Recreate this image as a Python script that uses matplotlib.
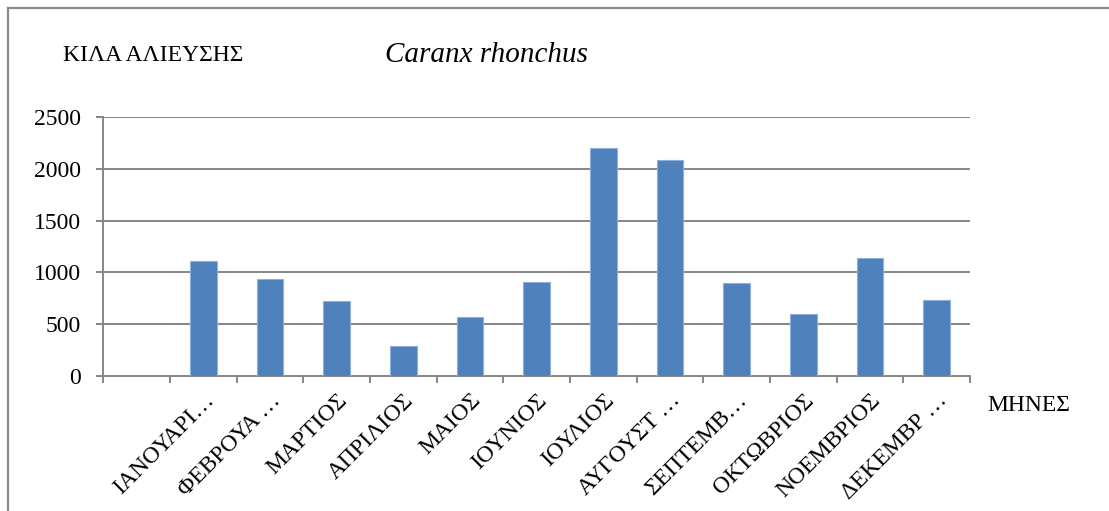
import numpy as np
import matplotlib
matplotlib.use('Agg')
import matplotlib.pyplot as plt
from matplotlib.lines import Line2D

plt.rcParams['font.family'] = ['Liberation Serif', 'DejaVu Serif']

# data (first category is empty)
months = ['', 'ΙΑΝΟΥΑΡΙ…', 'ΦΕΒΡΟΥΑ …', 'ΜΑΡΤΙΟΣ', 'ΑΠΡΙΛΙΟΣ', 'ΜΑΙΟΣ', 'ΙΟΥΝΙΟΣ',
          'ΙΟΥΛΙΟΣ', 'ΑΥΓΟΥΣΤ …', 'ΣΕΠΤΕΜΒ…', 'ΟΚΤΩΒΡΙΟΣ', 'ΝΟΕΜΒΡΙΟΣ', 'ΔΕΚΕΜΒΡ …']
kilos = [np.nan, 1110, 935, 725, 290, 570, 910, 2200, 2085, 900, 600, 1140, 730]
yticks = [0, 500, 1000, 1500, 2000, 2500]

fig = plt.figure(figsize=(11.09, 5.11), dpi=100)
ax = fig.add_axes([0.0932, 0.2642, 0.7815, 0.5068])

x = np.arange(len(months))
ax.bar(x, kilos, width=0.4, color='#4F81BD', edgecolor='#8eb0dc', linewidth=0.8, zorder=3)

ax.set_xlim(-0.5, len(months) - 0.5)
ax.set_ylim(0, 2500)
ax.set_yticks(yticks)
ax.set_yticklabels([str(v) for v in yticks])
ax.grid(axis='y', color='#868686', linewidth=1.4, zorder=0)

# category boundaries get tick marks, centres get labels
ax.set_xticks(np.arange(len(months) + 1) - 0.5)
ax.set_xticklabels([])
ax.set_xticks(x, minor=True)
ax.set_xticklabels(months, minor=True, fontsize=17, rotation=45,
                   ha='right', va='top', rotation_mode='anchor')
ax.tick_params(axis='x', which='major', length=5, width=1.4, color='#868686')
ax.tick_params(axis='x', which='minor', length=0, pad=10)
ax.tick_params(axis='y', length=5, width=1.4, color='#868686', labelsize=17, pad=11)

for s in ['top', 'right']:
    ax.spines[s].set_visible(False)
for s in ['left', 'bottom']:
    ax.spines[s].set_color('#868686')
    ax.spines[s].set_linewidth(1.4)

fig.text(63 / 1109, 1 - 55 / 511, 'ΚΙΛΑ ΑΛΙΕΥΣΗΣ', fontsize=17, va='center', ha='left')
fig.text(385 / 1109, 1 - 55 / 511, 'Caranx rhonchus', fontsize=21, style='italic',
         va='center', ha='left')
fig.text(987 / 1109, 1 - 405 / 511, 'ΜΗΝΕΣ', fontsize=17, va='center', ha='left')

# outer chart border (left and top visible)
fig.add_artist(Line2D([8 / 1109, 8 / 1109], [0, 1 - 8 / 511], transform=fig.transFigure,
                      color='#8c8c8c', linewidth=1.6))
fig.add_artist(Line2D([8 / 1109, 1], [1 - 8 / 511, 1 - 8 / 511], transform=fig.transFigure,
                      color='#8c8c8c', linewidth=1.6))

fig.savefig('out.png', dpi=100)
